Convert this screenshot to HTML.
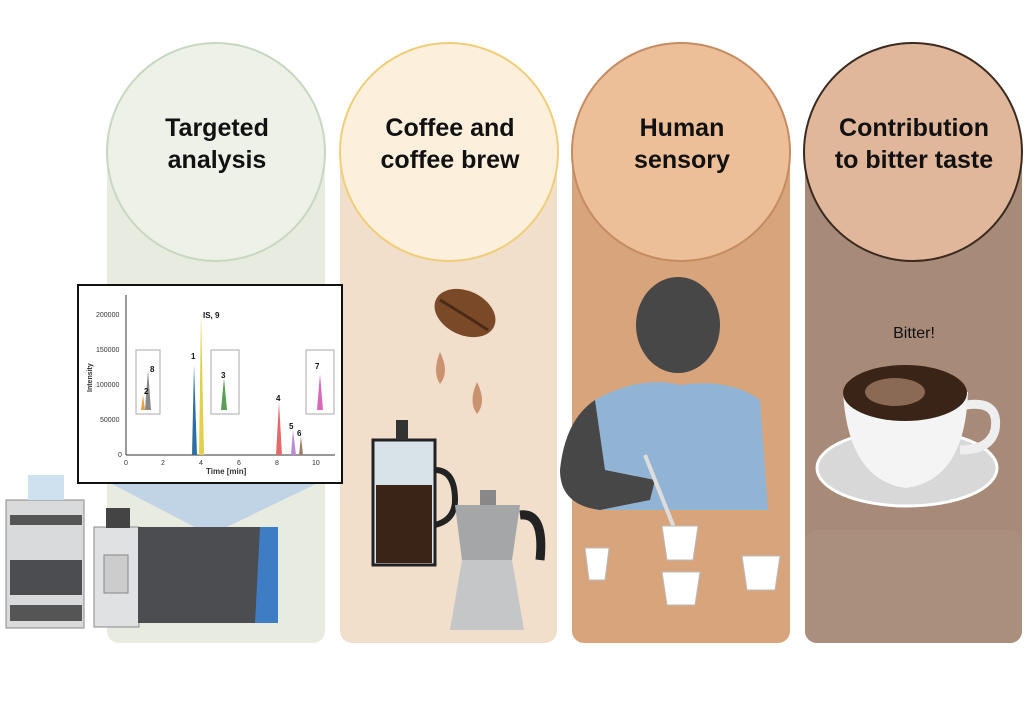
<!DOCTYPE html>
<html><head><meta charset="utf-8"><style>
html,body{margin:0;padding:0;background:#fff;}
svg{display:block}
text{font-family:"Liberation Sans",sans-serif}
</style></head><body>
<svg width="1024" height="717" viewBox="0 0 1024 717" xmlns="http://www.w3.org/2000/svg">
<rect width="1024" height="717" fill="#fff"/>
<!-- panels -->
<rect x="107" y="140" width="218" height="503" rx="12" fill="#e8ebe0"/>
<rect x="340" y="140" width="217" height="503" rx="12" fill="#f1dfcc"/>
<rect x="572" y="140" width="218" height="503" rx="12" fill="#d8a47b"/>
<rect x="805" y="140" width="217" height="503" rx="12" fill="#a78a77"/>
<rect x="805" y="530" width="217" height="113" rx="12" fill="#ab8f7d"/>
<!-- circles -->
<circle cx="216" cy="152" r="109" fill="#eef1e8" stroke="#c8d6c2" stroke-width="2"/>
<circle cx="449" cy="152" r="109" fill="#fcefdc" stroke="#f0cd78" stroke-width="2"/>
<circle cx="681" cy="152" r="109" fill="#edbf98" stroke="#c58c62" stroke-width="2"/>
<circle cx="913" cy="152" r="109" fill="#e0b79a" stroke="#3a2a20" stroke-width="2"/>
<g font-weight="bold" font-size="25" fill="#111" text-anchor="middle">
<text x="217" y="136">Targeted</text><text x="217" y="168">analysis</text>
<text x="450" y="136">Coffee and</text><text x="450" y="168">coffee brew</text>
<text x="682" y="136">Human</text><text x="682" y="168">sensory</text>
<text x="914" y="136">Contribution</text><text x="914" y="168">to bitter taste</text>
</g>
<!-- projection cone -->
<polygon points="110,483 318,483 210,535" fill="#bcd1e6" opacity="0.9"/>
<!-- chromatogram -->
<rect x="78" y="285" width="264" height="198" fill="#fff" stroke="#111" stroke-width="2"/>
<g font-size="7" fill="#333">
<line x1="126" y1="295" x2="126" y2="455" stroke="#333"/><line x1="126" y1="455" x2="335" y2="455" stroke="#333"/>
<text x="96" y="317">200000</text><text x="96" y="352">150000</text><text x="96" y="387">100000</text><text x="100" y="422">50000</text><text x="118" y="457">0</text>
<text x="124" y="465">0</text><text x="161" y="465">2</text><text x="199" y="465">4</text><text x="237" y="465">6</text><text x="275" y="465">8</text><text x="312" y="465">10</text>
<text x="206" y="474" font-weight="bold" font-size="8">Time [min]</text>
<text x="92" y="392" transform="rotate(-90 92 392)" font-weight="bold">Intensity</text>
</g>
<polygon points="199,455 201,313 204,455" fill="#e2cf4a"/>
<polygon points="192,455 194,365 197,455" fill="#2f6fa0"/>
<polygon points="276,455 279,402 282,455" fill="#e46a6a"/>
<polygon points="291,455 293,430 296,455" fill="#b98ad6"/>
<polygon points="299,455 301,436 303,455" fill="#a07c6a"/>
<g fill="none" stroke="#aaa"><rect x="136" y="350" width="24" height="64"/><rect x="211" y="350" width="28" height="64"/><rect x="306" y="350" width="28" height="64"/></g>
<polygon points="145,410 148,370 151,410" fill="#888"/><polygon points="141,410 143,395 145,410" fill="#e8a040"/>
<polygon points="221,410 224,378 227,410" fill="#55a055"/>
<polygon points="317,410 320,374 323,410" fill="#d66ab8"/>
<g font-size="8" font-weight="bold" fill="#111"><text x="203" y="318">IS, 9</text><text x="191" y="359">1</text><text x="150" y="372">8</text><text x="144" y="394">2</text><text x="221" y="378">3</text><text x="276" y="401">4</text><text x="289" y="429">5</text><text x="297" y="436">6</text><text x="315" y="369">7</text></g>
<!-- HPLC stack -->
<rect x="6" y="500" width="78" height="128" fill="#d9dadc" stroke="#888"/>
<rect x="10" y="515" width="72" height="10" fill="#555"/><rect x="10" y="560" width="72" height="35" fill="#4b4d50"/><rect x="10" y="605" width="72" height="16" fill="#555"/>
<rect x="28" y="475" width="36" height="25" fill="#cfe0ee"/>
<!-- MS -->
<rect x="94" y="527" width="45" height="100" fill="#e0e1e3" stroke="#888"/>
<rect x="138" y="527" width="140" height="96" fill="#4b4d50"/>
<polygon points="260,527 278,527 278,623 255,623" fill="#3e7cc4"/>
<rect x="106" y="508" width="24" height="20" fill="#444"/>
<rect x="104" y="555" width="24" height="38" fill="#ccc" stroke="#888"/>
<!-- coffee bean & drops -->
<ellipse cx="465" cy="313" rx="32" ry="22" transform="rotate(25 465 313)" fill="#7a4a28"/>
<path d="M440,300 Q465,315 488,330" stroke="#4a2a15" stroke-width="3" fill="none"/>
<path d="M440,352 Q432,372 440,384 Q450,372 440,352Z" fill="#c9936f"/>
<path d="M477,382 Q468,402 477,414 Q487,402 477,382Z" fill="#c9936f"/>
<!-- french press -->
<rect x="373" y="440" width="62" height="125" fill="#d7e3e8" stroke="#222" stroke-width="3"/>
<rect x="376" y="485" width="56" height="78" fill="#3a2418"/>
<rect x="396" y="420" width="12" height="20" fill="#333"/>
<path d="M435,470 Q455,470 455,500 Q455,520 435,525" stroke="#222" stroke-width="6" fill="none"/>
<!-- moka pot -->
<polygon points="455,505 520,505 512,560 462,560" fill="#a4a6a8"/>
<polygon points="462,560 512,560 524,630 450,630" fill="#c4c6c8"/>
<rect x="480" y="490" width="16" height="15" fill="#888"/>
<path d="M520,515 Q545,512 540,560" stroke="#222" stroke-width="9" fill="none"/>
<!-- person -->
<ellipse cx="678" cy="325" rx="42" ry="48" fill="#474747"/>
<path d="M595,400 Q640,375 680,385 Q730,378 760,400 L768,510 L595,510 Z" fill="#92b4d4"/>
<path d="M595,400 Q565,420 560,470 Q560,505 600,510 L650,500 L655,480 L605,470 Z" fill="#474747"/>
<line x1="645" y1="455" x2="675" y2="530" stroke="#ddd" stroke-width="4"/>
<g fill="#fff" stroke="#bbb"><path d="M585,548 L609,548 L605,580 L589,580Z"/><path d="M662,526 L698,526 L693,560 L667,560Z"/><path d="M662,572 L700,572 L695,605 L667,605Z"/><path d="M742,556 L780,556 L775,590 L747,590Z"/></g>
<!-- bitter cup -->
<text x="914" y="338" font-size="16" fill="#111" text-anchor="middle">Bitter!</text>
<ellipse cx="907" cy="468" rx="90" ry="38" fill="#d8d8d8" stroke="#fff" stroke-width="3"/>
<path d="M843,392 L968,392 Q965,480 906,488 Q848,480 843,392Z" fill="#f4f4f4"/>
<path d="M966,405 Q1000,400 995,430 Q990,450 960,450" stroke="#eee" stroke-width="9" fill="none"/>
<ellipse cx="905" cy="393" rx="62" ry="28" fill="#3a2418"/>
<ellipse cx="895" cy="392" rx="30" ry="14" fill="#8a6a55"/>
</svg>
</body></html>
